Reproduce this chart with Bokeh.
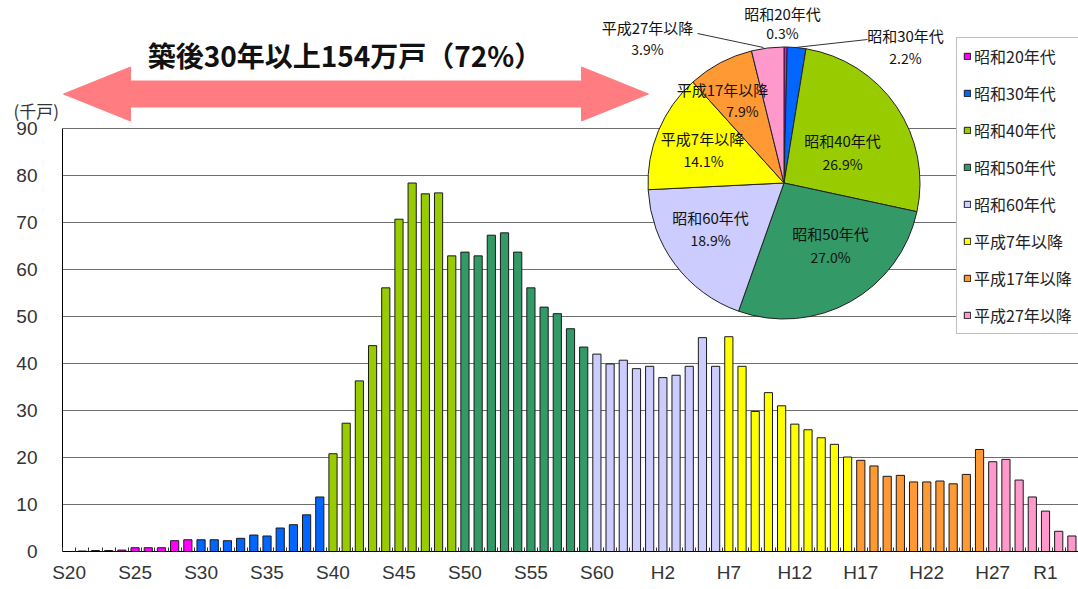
import numpy as np
from bokeh.plotting import figure
from bokeh.models import Range1d, FixedTicker, Legend, LegendItem, ColumnDataSource
from bokeh.core.properties import value
from bokeh.embed import file_html
from bokeh.resources import INLINE

# ---------------- data ----------------
categories = ([f"S{n}" for n in range(20, 64)] +
              [f"H{n}" for n in range(1, 31)] +
              ["R1", "R2", "R3"])

stock = [0.0, 0.1, 0.2, 0.2, 0.3, 0.8, 0.8, 0.8, 2.3, 2.5,          # S20-S29
         2.5, 2.5, 2.3, 2.8, 3.5, 3.3, 5.0, 5.7, 7.8, 11.6,         # S30-S39
         20.8, 27.3, 36.3, 43.8, 56.1, 70.7, 78.4, 76.1, 76.3, 62.9,  # S40-S49
         63.7, 62.9, 67.3, 67.8, 63.7, 56.1, 52.0, 50.6, 47.4, 43.5,  # S50-S59
         42.0, 39.9, 40.7, 38.9, 39.4, 37.0, 37.5, 39.4, 45.5, 39.4,  # S60-H6
         45.7, 39.4, 29.8, 33.8, 31.0, 27.1, 25.9, 24.2, 22.8, 20.1,  # H7-H16
         19.4, 18.2, 16.0, 16.2, 14.8, 14.8, 15.0, 14.4, 16.4, 21.7,  # H17-H26
         19.1, 19.6, 15.2, 11.6, 8.6, 4.3, 3.3]                       # H27-R3

group_names = ["昭和20年代", "昭和30年代", "昭和40年代", "昭和50年代",
               "昭和60年代", "平成7年以降", "平成17年以降", "平成27年以降"]
group_first = ["S20", "S30", "S40", "S50", "S60", "H7", "H17", "H27"]
group_colors = ["#ff00ff", "#0066ff", "#99cc00", "#339966",
                "#ccccff", "#ffff00", "#ff9933", "#ff99cc"]
pie_pct_labels = ["0.3%", "2.2%", "26.9%", "27.0%", "18.9%", "14.1%", "7.9%", "3.9%"]

x_tick_labels = ["S20", "S25", "S30", "S35", "S40", "S45", "S50", "S55", "S60",
                 "H2", "H7", "H12", "H17", "H22", "H27", "R1"]
y_ticks = [0, 10, 20, 30, 40, 50, 60, 70, 80, 90]

title_text = "築後30年以上154万戸（72%）"
unit_text = "(千戸)"

# ---------------- geometry ----------------
W, H = 1078, 589
FL, FB = 13, 38            # frame starts at the unit label; bars start at AXIS_X
AXIS_X = 62
FH = H - FB
YS = 4.7                   # px per thousand
N = len(categories)
XS = (W - AXIS_X) / N      # px per category
X0 = -0.5 - (AXIS_X - FL) / XS

def px(page_x):
    return -0.5 + (page_x - AXIS_X) / XS

def py(page_y):
    return (FH - page_y) / YS

JP = value("Noto Sans CJK JP")
LAT = "Liberation Sans"

p = figure(width=W, height=H, output_backend="svg", toolbar_location=None,
           x_range=Range1d(X0, N - 0.5), y_range=Range1d(0, FH / YS),
           min_border_left=FL, min_border_right=0, min_border_top=0,
           min_border_bottom=FB)
p.outline_line_color = None
p.background_fill_color = "white"
p.xgrid.visible = False
p.ygrid.visible = False

# horizontal grid lines over the category span only
p.segment(x0=[-0.5] * len(y_ticks), x1=[N - 0.5] * len(y_ticks), y0=y_ticks, y1=y_ticks,
          line_color="#6e6e6e", line_width=1)
# value-axis rule
p.segment(x0=[-0.5], x1=[-0.5], y0=[0], y1=[y_ticks[-1]], line_color="black", line_width=1)

p.yaxis.ticker = FixedTicker(ticks=y_ticks)
p.yaxis.axis_line_color = None
p.yaxis.major_tick_in = 0
p.yaxis.major_tick_out = 0
p.yaxis.minor_tick_line_color = None
p.yaxis.major_label_standoff = -(37 - FL)
p.yaxis.major_label_text_font = LAT
p.yaxis.major_label_text_font_size = "19px"
p.yaxis.major_label_text_color = "#333333"

tick_idx = [categories.index(t) for t in x_tick_labels]
p.xaxis.ticker = FixedTicker(ticks=tick_idx, minor_ticks=[i - 0.5 for i in range(N + 1)])
p.xaxis.major_label_overrides = {i: t for i, t in zip(tick_idx, x_tick_labels)}
p.xaxis.bounds = (-0.5, N - 0.5)
p.xaxis.axis_line_color = "black"
p.xaxis.major_tick_in = 0
p.xaxis.major_tick_out = 0
p.xaxis.minor_tick_in = 4
p.xaxis.minor_tick_out = 0
p.xaxis.minor_tick_line_color = "#333333"
p.xaxis.major_label_standoff = 10
p.xaxis.major_label_text_font = LAT
p.xaxis.major_label_text_font_size = "19px"
p.xaxis.major_label_text_color = "#333333"

# bars by era group
starts = [categories.index(g) for g in group_first] + [N]
renderers = []
group_sums = []
for gi, name in enumerate(group_names):
    a, b = starts[gi], starts[gi + 1]
    src = ColumnDataSource(dict(x=list(range(a, b)), top=stock[a:b]))
    r = p.vbar(x="x", top="top", width=0.62, bottom=0, source=src,
               fill_color=group_colors[gi], line_color="#1a1a1a", line_width=1)
    renderers.append(r)
    group_sums.append(sum(stock[a:b]))

# double-headed arrow
ax = [63, 130, 130, 581, 581, 648, 581, 581, 130, 130]
ay = [93.5, 66.5, 80.5, 80.5, 66.5, 93.5, 120.5, 106.5, 106.5, 120.5]
p.patch([px(v) for v in ax], [py(v) for v in ay], fill_color="#ff7c80",
        line_color="#ff7c80", line_width=1)

p.text(x=[px(344.5)], y=[py(54)], text=[title_text], text_font=JP,
       text_font_style="bold", text_font_size="28px", text_color="#111111",
       text_align="center", text_baseline="middle")

# unit label
p.text(x=[px(13)], y=[py(110)], text=[unit_text], text_font=JP,
       text_font_size="17px", text_color="#333333",
       text_align="left", text_baseline="middle")

# pie
cxp, cyp, R = 783.5, 182.5, 136
cx, cy = px(cxp), py(cyp)
total = sum(group_sums)
fr = np.cumsum([0] + [s / total for s in group_sums])
starts_a = [np.pi / 2 - 2 * np.pi * f for f in fr[:-1]]
ends_a = [np.pi / 2 - 2 * np.pi * f for f in fr[1:]]
p.wedge(x=[cx] * 8, y=[cy] * 8, radius=R, radius_units="screen",
        start_angle=starts_a, end_angle=ends_a, direction="clock",
        fill_color=group_colors, line_color="#222222", line_width=1)

# leader lines
p.segment(x0=[px(697), px(867)], y0=[py(33), py(39)],
          x1=[px(763), px(795)], y1=[py(47), py(47)], line_color="#333333", line_width=1)

name_off = [(-1.5, -169.5), (121.5, -147.5), (58.5, -42.5), (46.5, 50.5),
            (-73.5, 34.5), (-81.5, -44.5), (-61.5, -93.5), (-136.5, -155.5)]
pct_off = [(-1.5, -150.5), (121.5, -125.5), (58.5, -19.5), (46.5, 73.5),
           (-73.5, 56.5), (-80.5, -22.5), (-41.5, -72.5), (-136.5, -134.5)]
p.text(x=[px(cxp + d[0]) for d in name_off], y=[py(cyp + d[1]) for d in name_off],
       text=group_names, text_font=JP, text_font_size="15px", text_color="#111111",
       text_align="center", text_baseline="middle")
p.text(x=[px(cxp + d[0]) for d in pct_off], y=[py(cyp + d[1]) for d in pct_off],
       text=pie_pct_labels, text_font=JP, text_font_size="14px", text_color="#111111",
       text_align="center", text_baseline="middle")

# legend
legend = Legend(items=[LegendItem(label=n, renderers=[r]) for n, r in zip(group_names, renderers)],
                location=(956 - FL, FH - 334),
                border_line_color="#808080", border_line_width=1,
                background_fill_color="white", background_fill_alpha=1,
                label_text_font="Noto Sans CJK JP", label_text_font_size="16px",
                label_text_color="#222222", glyph_width=8, glyph_height=8,
                label_height=20, spacing=13, padding=6, margin=0, label_standoff=3)
p.add_layout(legend)

open("out.html", "w").write(file_html(p, INLINE))
